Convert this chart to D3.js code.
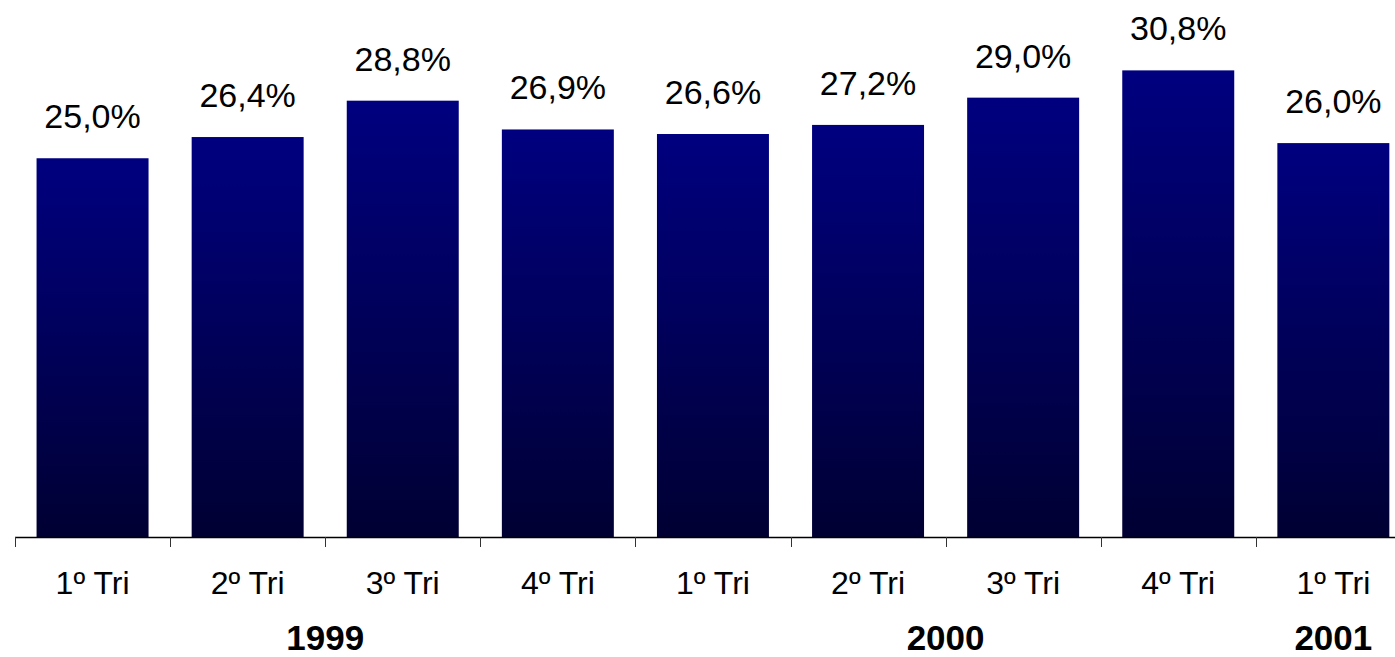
<!DOCTYPE html>
<html>
<head>
<meta charset="utf-8">
<script src="https://cdn.jsdelivr.net/npm/d3@7"></script>
<style>
  html, body { margin: 0; padding: 0; background: #fff; }
  svg { display: block; }
  text { font-family: "Liberation Sans", Arial, sans-serif; fill: #000; }
</style>
</head>
<body>
<svg id="chart" width="1395" height="657"></svg>
<script>
// Quarterly share (%), 1999 Q1 .. 2001 Q1
const quarters = ["1º Tri", "2º Tri", "3º Tri", "4º Tri", "1º Tri", "2º Tri", "3º Tri", "4º Tri", "1º Tri"];
const values = [25.0, 26.4, 28.8, 26.9, 26.6, 27.2, 29.0, 30.8, 26.0];
const years = ["1999", "2000", "2001"];
const yearFirstQuarter = [0, 4, 8];
const yearLastQuarter = [3, 7, 8];

const svg = d3.select("#chart");
const W = 1395;
const baseY = 537;
const left = 15;
const step = 155.1;

const idx = d3.range(quarters.length);
const x = d3.scaleBand()
  .domain(idx)
  .range([left, left + step * quarters.length])
  .paddingInner(0.278)
  .paddingOuter(0.139);

const y = d3.scaleLinear().domain([0, 35]).range([baseY, baseY - 35 * 15.15]);

const locale = d3.formatLocale({ decimal: ",", thousands: ".", grouping: [3], currency: ["", ""] });
const fmt = v => locale.format(".1f")(v) + "%";

// Vertical gradient on each bar: navy at the top, dark at the bottom
const defs = svg.append("defs");
const grad = defs.append("linearGradient")
  .attr("id", "barFill")
  .attr("x1", 0).attr("y1", 0).attr("x2", 0).attr("y2", 1);
grad.append("stop").attr("offset", "0%").attr("stop-color", "#000080");
grad.append("stop").attr("offset", "100%").attr("stop-color", "#000033");

svg.append("g")
  .selectAll("rect")
  .data(values)
  .join("rect")
  .attr("x", (d, i) => x(i))
  .attr("y", d => y(d))
  .attr("width", x.bandwidth())
  .attr("height", d => baseY - y(d))
  .attr("fill", "url(#barFill)");

// Value labels above the bars
svg.append("g")
  .selectAll("text")
  .data(values)
  .join("text")
  .attr("x", (d, i) => x(i) + x.bandwidth() / 2)
  .attr("y", d => y(d) - 30)
  .attr("text-anchor", "middle")
  .style("font-size", "34px")
  .text(d => fmt(d));

// Category axis: baseline with ticks between categories
const axis = d3.axisBottom(x)
  .tickSize(0)
  .tickPadding(34)
  .tickFormat(i => quarters[i]);

const gAxis = svg.append("g")
  .attr("transform", `translate(0,${baseY})`)
  .call(axis);
gAxis.select(".domain").remove();
gAxis.selectAll(".tick text")
  .style("font-size", "32px")
  .style("font-family", "'Liberation Sans', Arial, sans-serif")
  .attr("fill", "#000");

svg.append("line")
  .attr("x1", left).attr("x2", W)
  .attr("y1", baseY + 0.5).attr("y2", baseY + 0.5)
  .attr("stroke", "#000").attr("stroke-width", 1.5);

svg.append("g")
  .selectAll("line")
  .data(d3.range(quarters.length + 1))
  .join("line")
  .attr("x1", i => Math.round(left + x.step() * i) + 0.5)
  .attr("x2", i => Math.round(left + x.step() * i) + 0.5)
  .attr("y1", baseY)
  .attr("y2", baseY + 10)
  .attr("stroke", "#333")
  .attr("stroke-width", 1);

// Year labels centred under their quarters
svg.append("g")
  .selectAll("text")
  .data(years)
  .join("text")
  .attr("x", (d, i) => (left + x.step() * yearFirstQuarter[i] + left + x.step() * (yearLastQuarter[i] + 1)) / 2)
  .attr("y", 650)
  .attr("text-anchor", "middle")
  .style("font-size", "35px")
  .style("font-weight", "bold")
  .text(d => d);
</script>
</body>
</html>
